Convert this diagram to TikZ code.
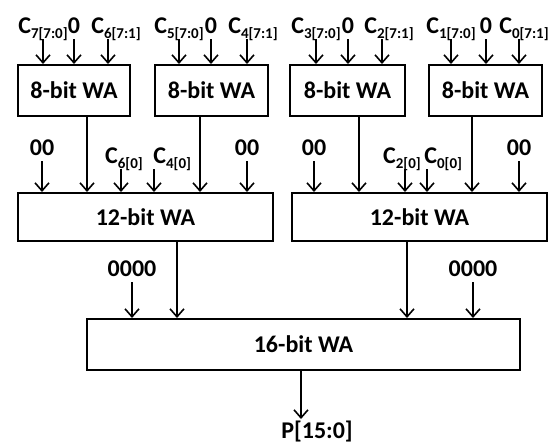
\documentclass[tikz,border=0pt]{standalone}
\usepackage{fontspec}
\setmainfont{Carlito}
\usetikzlibrary{arrows.meta}

\newcommand{\csub}[2]{C\raisebox{-0.45ex}{\fontsize{7.5}{8}\selectfont #1[#2]}}

\begin{document}
\begin{tikzpicture}[
        x=0.5pt, y=-0.5pt,
        wa/.style={draw=black, line width=1pt, inner sep=0pt, font=\bfseries\fontsize{12}{14}\selectfont},
        lbl/.style={inner sep=1pt, anchor=base, text depth=2pt, font=\bfseries\fontsize{12}{14}\selectfont},
        arr/.style={-{Straight Barb[length=4pt,width=7pt]}, line width=0.8pt}
    ]
        \useasboundingbox (0,0) rectangle (552,446);

        % Adders
        \node[wa, minimum width=56pt, minimum height=25.5pt] (wa7) at (74,90.5) {8-bit WA};
        \node[wa, minimum width=56.5pt, minimum height=25.5pt] (wa5) at (211.5,90.5) {8-bit WA};
        \node[wa, minimum width=57.5pt, minimum height=25.5pt] (wa3) at (347.5,90.5) {8-bit WA};
        \node[wa, minimum width=56.5pt, minimum height=25.5pt] (wa1) at (485.5,90.5) {8-bit WA};
        \node[wa, minimum width=127.5pt, minimum height=24pt] (wl) at (145.5,217) {12-bit WA};
        \node[wa, minimum width=127.5pt, minimum height=24pt] (wr) at (419.5,217) {12-bit WA};
        \node[wa, minimum width=216.5pt, minimum height=25.5pt] (wp) at (303.5,344.5) {16-bit WA};

        % Top inputs
        \node[lbl] (c7) at (43,33) {\csub{7}{7:0}};
        \node[lbl] (z7) at (74,33) {0};
        \node[lbl] (c6) at (116,33) {\csub{6}{7:1}};
        \node[lbl] (c5) at (179,33) {\csub{5}{7:0}};
        \node[lbl] (z5) at (211,33) {0};
        \node[lbl] (c4) at (253,33) {\csub{4}{7:1}};
        \node[lbl] (c3) at (316,33) {\csub{3}{7:0}};
        \node[lbl] (z3) at (348,33) {0};
        \node[lbl] (c2) at (389,33) {\csub{2}{7:1}};
        \node[lbl] (c1) at (451,33) {\csub{1}{7:0}};
        \node[lbl] (z1) at (486,33) {0};
        \node[lbl] (c0) at (524,33) {\csub{0}{7:1}};

        \draw[arr] (c7.south) -- (c7.south |- wa7.north);
        \draw[arr] (z7.south) -- (z7.south |- wa7.north);
        \draw[arr] ([xshift=-4pt]c6.south) -- ([xshift=-4pt]c6.south |- wa7.north);
        \draw[arr] (c5.south) -- (c5.south |- wa5.north);
        \draw[arr] (z5.south) -- (z5.south |- wa5.north);
        \draw[arr] ([xshift=-3pt]c4.south) -- ([xshift=-3pt]c4.south |- wa5.north);
        \draw[arr] (c3.south) -- (c3.south |- wa3.north);
        \draw[arr] (z3.south) -- (z3.south |- wa3.north);
        \draw[arr] ([xshift=-3.5pt]c2.south) -- ([xshift=-3.5pt]c2.south |- wa3.north);
        \draw[arr] (c1.south) -- (c1.south |- wa1.north);
        \draw[arr] (z1.south) -- (z1.south |- wa1.north);
        \draw[arr] ([xshift=-2.5pt]c0.south) -- ([xshift=-2.5pt]c0.south |- wa1.north);

        % Middle inputs
        \node[lbl] (zz1) at (42,155) {00};
        \node[lbl] (b6) at (124,163) {\csub{6}{0}};
        \node[lbl, anchor=base west] (b4) at (151,163) {\csub{4}{0}};
        \node[lbl] (zz2) at (247,155) {00};
        \node[lbl] (zz3) at (314,155) {00};
        \node[lbl] (b2) at (402,163) {\csub{2}{0}};
        \node[lbl, anchor=base west] (b0) at (422,163) {\csub{0}{0}};
        \node[lbl] (zz4) at (519,155) {00};

        \draw[arr] (zz1.south) -- (zz1.south |- wl.north);
        \draw[arr] ([xshift=6.5pt]wa7.south) -- ([xshift=6.5pt]wa7.south |- wl.north);
        \draw[arr] ([xshift=-1.5pt]b6.south) -- ([xshift=-1.5pt]b6.south |- wl.north);
        \draw[arr] ([xshift=1.5pt]b4.south west) -- ([xshift=1.5pt]b4.south west |- wl.north);
        \draw[arr] ([xshift=-5.75pt]wa5.south) -- ([xshift=-5.75pt]wa5.south |- wl.north);
        \draw[arr] (zz2.south) -- (zz2.south |- wl.north);
        \draw[arr] (zz3.south) -- (zz3.south |- wr.north);
        \draw[arr] ([xshift=5.75pt]wa3.south) -- ([xshift=5.75pt]wa3.south |- wr.north);
        \draw[arr] ([xshift=1.5pt]b2.south) -- ([xshift=1.5pt]b2.south |- wr.north);
        \draw[arr] ([xshift=2.5pt]b0.south west) -- ([xshift=2.5pt]b0.south west |- wr.north);
        \draw[arr] ([xshift=-6.75pt]wa1.south) -- ([xshift=-6.75pt]wa1.south |- wr.north);
        \draw[arr] (zz4.south) -- (zz4.south |- wr.north);

        % Bottom inputs
        \node[lbl] (q1) at (132,276) {0000};
        \node[lbl] (q2) at (473,276) {0000};

        \draw[arr] (q1.south) -- (q1.south |- wp.north);
        \draw[arr] ([xshift=15.75pt]wl.south) -- ([xshift=15.75pt]wl.south |- wp.north);
        \draw[arr] ([xshift=-6.25pt]wr.south) -- ([xshift=-6.25pt]wr.south |- wp.north);
        \draw[arr] (q2.south) -- (q2.south |- wp.north);

        % Output
        \node[lbl, anchor=north, text depth=0pt] (p) at (317,419) {P[15:0]};
        \draw[arr] ([xshift=-1.25pt]wp.south) -- ([xshift=-1.25pt]wp.south |- p.north);
    \end{tikzpicture}
\end{document}
